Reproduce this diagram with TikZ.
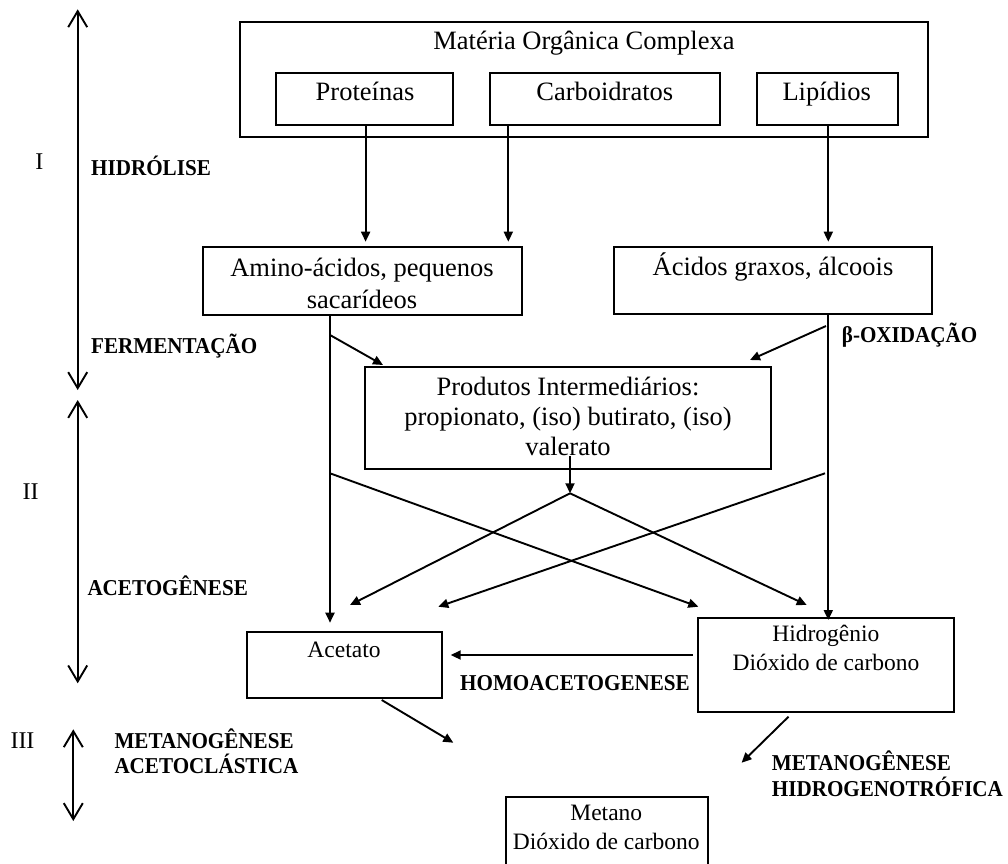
\documentclass[tikz,border=0pt]{standalone}
\usepackage{fontspec}
\setmainfont{Liberation Serif}
\newfontfamily\lblfont[FakeStretch=0.93]{Liberation Serif}
\usetikzlibrary{arrows.meta}
\tikzset{
  box/.style={draw, line width=2pt, inner sep=0pt, minimum width=#1},
  flow/.style={line width=1.9pt, -{Triangle[length=10pt,width=9pt]}},
  phase/.style={line width=1.9pt, {Straight Barb[length=16pt,width=19pt]}-{Straight Barb[length=16pt,width=19pt]}},
  txt/.style={inner sep=0pt, anchor=base, font=\fontsize{26.5}{30}\selectfont},
  stxt/.style={inner sep=0pt, anchor=base, font=\fontsize{23.5}{27}\selectfont},
  roman/.style={inner sep=0pt, anchor=base, font=\fontsize{24}{28}\selectfont},
  lbl/.style={inner sep=0pt, anchor=base west, font=\lblfont\bfseries\fontsize{22.7}{26}\selectfont},
}
\begin{document}
\begin{tikzpicture}[x=1pt,y=-1pt]
\useasboundingbox (0,0) rectangle (1008,863);

% boxes
\node[box=687.5pt, minimum height=115pt] (outer) at (584.2,79.2) {};
\node[box=176.8pt, minimum height=52.3pt] (prot) at (364.8,98.9) {};
\node[box=229.6pt, minimum height=52.3pt] (carb) at (604.8,98.9) {};
\node[box=141pt, minimum height=52.3pt] (lip) at (827.2,98.9) {};
\node[box=318.7pt, minimum height=67.7pt] (amino) at (362.4,281.2) {};
\node[box=318pt, minimum height=66.7pt] (acid) at (773.3,280.7) {};
\node[box=405.7pt, minimum height=102.3pt] (prod) at (567.9,417.9) {};
\node[box=195pt, minimum height=66pt] (acet) at (344.2,665.3) {};
\node[box=256.3pt, minimum height=94.6pt] (hidr) at (825.9,665) {};
\node[box=201.6pt, minimum height=76pt] (meta) at (606.8,835.3) {};

% box texts
\node[txt] (outerT) at (584,49) {Matéria Orgânica Complexa};
\node[txt] (protT) at (365,100) {Proteínas};
\node[txt] (carbT) at (604.8,100) {Carboidratos};
\node[txt] (lipT) at (826.7,100) {Lipídios};
\node[txt] (aminoT1) at (362,276) {Amino-ácidos, pequenos};
\node[txt] (aminoT2) at (362,308) {sacarídeos};
\node[txt] (acidT) at (773,275) {Ácidos graxos, álcoois};
\node[txt] (prodT1) at (568,395) {Produtos Intermediários:};
\node[txt] (prodT2) at (568,425) {propionato, (iso) butirato, (iso)};
\node[txt] (prodT3) at (568,455) {valerato};
\node[stxt] (acetT) at (344,657.3) {Acetato};
\node[stxt] (hidrT1) at (825.8,641.7) {Hidrogênio};
\node[stxt] (hidrT2) at (826,670) {Dióxido de carbono};
\node[stxt] (metaT1) at (606.3,820.7) {Metano};
\node[stxt] (metaT2) at (606.3,849.3) {Dióxido de carbono};

% phase labels
\node[roman] (r1) at (39.3,169) {I};
\node[roman] (r2) at (30.5,499) {II};
\node[roman] (r3) at (22.5,748.3) {III};
\node[lbl] (hid) at (91,175) {HIDRÓLISE};
\node[lbl] (fer) at (91,353.3) {FERMENTAÇÃO};
\node[lbl] (acg) at (87.3,595) {ACETOGÊNESE};
\node[lbl] (mac1) at (114.3,748.3) {METANOGÊNESE};
\node[lbl] (mac2) at (114.3,773.3) {ACETOCLÁSTICA};
\node[lbl] (box) at (841.7,342.7) {β-OXIDAÇÃO};
\node[lbl] (homo) at (460,690) {HOMOACETOGENESE};
\node[lbl] (mhi1) at (771.7,770) {METANOGÊNESE};
\node[lbl] (mhi2) at (771.7,796) {HIDROGENOTRÓFICA};

% phase arrows
\coordinate (p1a) at (77.7,9.3);   \coordinate (p1b) at (77.7,390);
\coordinate (p2a) at (77.7,400);   \coordinate (p2b) at (77.7,683.3);
\coordinate (p3a) at (73.3,729.3); \coordinate (p3b) at (73.3,821);
\draw[phase] (p1a) -- (p1b);
\draw[phase] (p2a) -- (p2b);
\draw[phase] (p3a) -- (p3b);

% hydrolysis arrows
\coordinate (tp) at (365.6,241.7);
\coordinate (tc) at (508.3,241.7);
\coordinate (tl) at (828.3,241.7);
\draw[flow] (prot.south -| tp) -- (tp);
\draw[flow] (carb.south -| tc) -- (tc);
\draw[flow] (lip.south -| tl) -- (tl);

% fermentation / beta-oxidation
\coordinate (aD1) at (330,335);   \coordinate (aD2) at (383,365);
\coordinate (bD1) at (826,326);   \coordinate (bD2) at (750,360);
\draw[flow] (aD1) -- (aD2);
\draw[flow] (bD1) -- (bD2);

% verticals
\coordinate (aV) at (330,622.7);
\coordinate (bV) at (828.3,620);
\draw[flow] (amino.south -| aV) -- (aV);
\draw[flow] (acid.south -| bV) -- (bV);

% crossing lines
\coordinate (xL1) at (330,473.3);   \coordinate (xL2) at (698.3,606.7);
\coordinate (xR1) at (825,473.3);   \coordinate (xR2) at (438.3,606.7);
\draw[flow] (xL1) -- (xL2);
\draw[flow] (xR1) -- (xR2);

% from intermediates
\coordinate (vS) at (570,456);
\coordinate (vJ) at (570,493.3);
\coordinate (vL) at (350,605);
\coordinate (vR) at (806.7,605);
\draw[flow] (vS) -- (vJ);
\draw[flow] (vJ) -- (vL);
\draw[flow] (vJ) -- (vR);

% homoacetogenesis
\coordinate (hS) at (692.7,655);
\coordinate (hE) at (450.7,655);
\draw[flow] (hS) -- (hE);

% methanogenesis
\coordinate (mA1) at (381.7,700);  \coordinate (mA2) at (453.3,742.7);
\coordinate (mH1) at (788.5,716.7); \coordinate (mH2) at (741.6,762.7);
\draw[flow] (mA1) -- (mA2);
\draw[flow] (mH1) -- (mH2);
\end{tikzpicture}
\end{document}
